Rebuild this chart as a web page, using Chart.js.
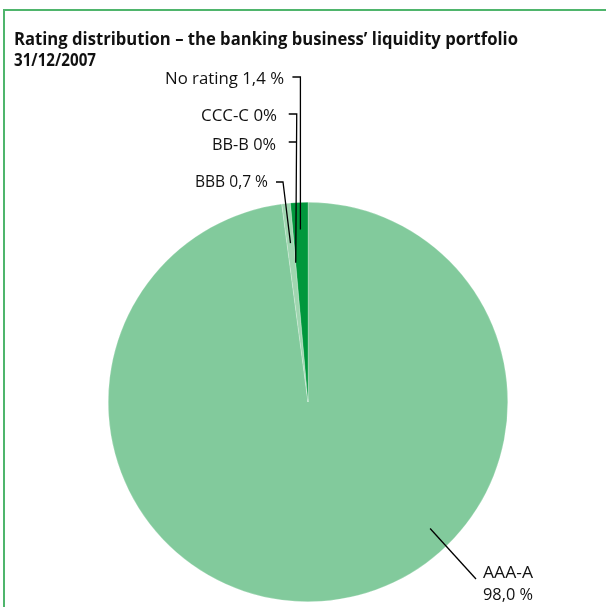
<!DOCTYPE html>
<html><head><meta charset="utf-8">
<script src="https://cdn.jsdelivr.net/npm/chart.js@4/dist/chart.umd.min.js"></script>
<style>html,body{margin:0;padding:0;background:#fff;overflow:hidden}canvas{display:block}</style>
</head><body>
<canvas id="c" width="606" height="607"></canvas>
<script>
// ---- data ----
const categories = ['AAA-A', 'BBB', 'BB-B', 'CCC-C', 'No rating'];
const shares = [98.0, 0.7, 0, 0, 1.4];
const shareTexts = ['98,0 %', '0,7 %', '0%', '0%', '1,4 %'];
const sliceColors = ['#82ca9c', '#9fd6b0', '#82ca9c', '#82ca9c', '#00973c'];
const titleLines = ['Rating distribution – the banking business’ liquidity portfolio', '31/12/2007'];

const FONT = '"Open Sans", Lato, sans-serif';

function fitText(ctx, text, x, y, font, align, targetW) {
  ctx.save();
  ctx.font = font;
  ctx.textBaseline = 'alphabetic';
  ctx.textAlign = 'left';
  const w = ctx.measureText(text).width;
  const s = targetW ? targetW / w : 1;
  const left = align === 'right' ? x - w * s : x;
  ctx.translate(left, y);
  ctx.scale(s, 1);
  ctx.fillText(text, 0, 0);
  ctx.restore();
}

const calloutPlugin = {
  id: 'callouts',
  afterDatasetsDraw(chart) {
    const ctx = chart.ctx;
    const meta = chart.getDatasetMeta(0);
    const pt = (i, which, f, ang) => {
      const a = meta.data[i];
      let angle;
      if (ang !== undefined) angle = ang;
      else if (which === 'start') angle = a.startAngle;
      else angle = (a.startAngle + a.endAngle) / 2;
      return { x: a.x + Math.cos(angle) * a.outerRadius * f, y: a.y + Math.sin(angle) * a.outerRadius * f };
    };
    ctx.save();
    ctx.strokeStyle = '#000';
    ctx.lineWidth = 1.3;
    ctx.fillStyle = '#111';
    ctx.lineCap = 'butt';

    // No rating
    let p = pt(4, 'mid', 0.865);
    ctx.beginPath();
    ctx.moveTo(p.x, p.y); ctx.lineTo(p.x, 77); ctx.lineTo(p.x - 8, 77);
    ctx.stroke();
    fitText(ctx, categories[4] + ' ' + shareTexts[4], 284, 84, '16px ' + FONT, 'right', 119);

    // CCC-C and BB-B (zero slices)
    p = pt(3, 'start', 0.7);
    ctx.beginPath();
    ctx.moveTo(p.x, p.y); ctx.lineTo(p.x + 1, 114); ctx.lineTo(p.x - 7, 114);
    ctx.moveTo(p.x + 0.6, 142); ctx.lineTo(p.x - 7, 142);
    ctx.stroke();
    fitText(ctx, categories[3] + ' ' + shareTexts[3], 277, 121, '16px ' + FONT, 'right', 76);
    fitText(ctx, categories[2] + ' ' + shareTexts[2], 276, 150, '16px ' + FONT, 'right', 64);

    // BBB
    p = pt(1, 'mid', 0.8);
    ctx.beginPath();
    ctx.moveTo(p.x, p.y); ctx.lineTo(283, 182); ctx.lineTo(276, 182);
    ctx.stroke();
    fitText(ctx, categories[1] + ' ' + shareTexts[1], 268, 187, '16px ' + FONT, 'right', 73);

    // AAA-A
    p = pt(0, null, 0.88, 46 * Math.PI / 180);
    ctx.beginPath();
    ctx.moveTo(p.x, p.y); ctx.lineTo(476, 579);
    ctx.stroke();
    fitText(ctx, categories[0], 483, 578, '16px ' + FONT, 'left', 50);
    fitText(ctx, shareTexts[0], 483, 600, '16px ' + FONT, 'left', 50);
    ctx.restore();
  },
  afterDraw(chart) {
    const ctx = chart.ctx;
    ctx.save();
    // frame
    ctx.strokeStyle = '#4fb56c';
    ctx.lineWidth = 2;
    ctx.beginPath();
    ctx.moveTo(606, 10); ctx.lineTo(4, 10); ctx.lineTo(4, 607);
    ctx.stroke();
    // title
    ctx.fillStyle = '#111';
    fitText(ctx, titleLines[0], 14, 45, 'bold 17.5px ' + FONT, 'left', 504);
    fitText(ctx, titleLines[1], 14, 66, 'bold 17.5px ' + FONT, 'left', 82);
    ctx.restore();
  }
};

new Chart(document.getElementById('c'), {
  type: 'pie',
  data: {
    labels: categories,
    datasets: [{
      data: shares,
      backgroundColor: sliceColors,
      borderColor: 'rgba(255,255,255,0.45)',
      borderWidth: 0.5
    }]
  },
  options: {
    responsive: false,
    devicePixelRatio: 1,
    animation: false,
    layout: { padding: { left: 108, right: 98, top: 202, bottom: 5 } },
    plugins: { legend: { display: false }, tooltip: { enabled: false }, title: { display: false } }
  },
  plugins: [calloutPlugin]
});
</script>
</body></html>
